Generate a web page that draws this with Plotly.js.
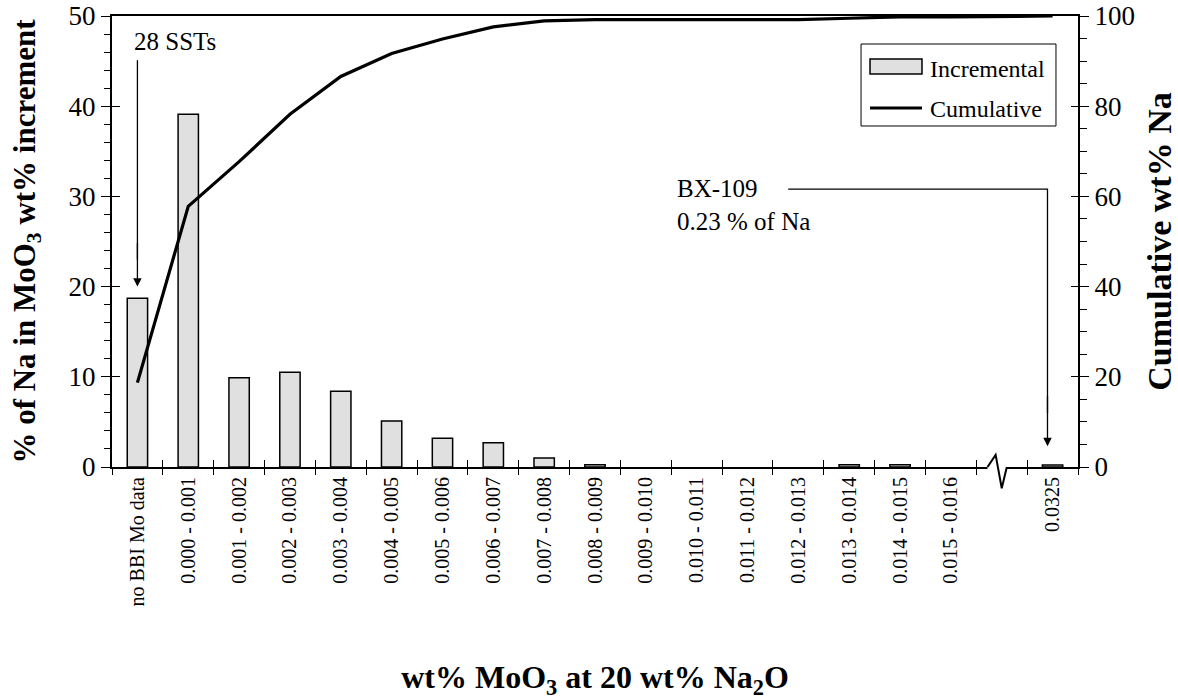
<!DOCTYPE html>
<html><head><meta charset="utf-8">
<script src="https://cdn.plot.ly/plotly-3.0.1.min.js"></script>
<style>body{margin:0;background:#fff}#chart{width:1178px;height:700px}</style>
</head><body><div id="chart"></div>
<script>
// ---- data ----
const categories = ["no BBI Mo data","0.000 - 0.001","0.001 - 0.002","0.002 - 0.003","0.003 - 0.004",
  "0.004 - 0.005","0.005 - 0.006","0.006 - 0.007","0.007 - 0.008","0.008 - 0.009","0.009 - 0.010",
  "0.010 - 0.011","0.011 - 0.012","0.012 - 0.013","0.013 - 0.014","0.014 - 0.015","0.015 - 0.016",
  " ","0.0325"];
const incremental = [18.7,39.1,9.9,10.5,8.4,5.1,3.2,2.7,1.0,0.25,0,0,0,0,0.25,0.25,0,null,0.23];
const cumulative  = [18.7,57.8,67.7,78.2,86.6,91.7,94.9,97.6,98.9,99.2,99.2,99.2,99.2,99.2,99.5,99.8,99.8,null,100];
const leftTickVals  = [0,10,20,30,40,50];
const rightTickVals = [0,20,40,60,80,100];
const legendNames = ["Incremental","Cumulative"];

const FONT = 'Liberation Serif, "Times New Roman", serif';

const traces = [
  {type:'bar', name:legendNames[0], x:categories, y:incremental, showlegend:false,
   marker:{color:'#e0e0e0', line:{color:'#000', width:incremental.map(v => v ? 1.5 : 0)}},
   width:0.4, xaxis:'x', yaxis:'y'},
  {type:'scatter', mode:'lines', name:legendNames[1], x:categories, y:cumulative, connectgaps:true,
   showlegend:false, line:{color:'#000', width:3.2}, xaxis:'x', yaxis:'y2'},
  // empty helper traces so the tick-only overlay axes are drawn
  {type:'scatter', x:[], y:[], xaxis:'x2', yaxis:'y', showlegend:false, hoverinfo:'skip'},
  {type:'scatter', x:[], y:[], xaxis:'x', yaxis:'y3', showlegend:false, hoverinfo:'skip'},
  {type:'scatter', x:[], y:[], xaxis:'x', yaxis:'y4', showlegend:false, hoverinfo:'skip'}
];

const tickOnly = {showline:false, showgrid:false, zeroline:false, showticklabels:false,
  tickcolor:'#000', tickwidth:1, ticks:'inside', automargin:false, fixedrange:true};

const layout = {
  width:1178, height:700,
  margin:{l:112, r:100, t:16, b:233, pad:0},
  paper_bgcolor:'#fff', plot_bgcolor:'#fff',
  font:{family:FONT, size:26, color:'#000'},
  showlegend:false,
  xaxis:{type:'category', categoryorder:'array', categoryarray:categories, range:[-0.5,18.5],
    tickson:'boundaries', ticks:'outside', ticklen:6, tickwidth:1, tickcolor:'#000',
    tickangle:-90, tickfont:{family:FONT, size:20, color:'#000'},
    showline:true, linewidth:2, linecolor:'#000', mirror:true, showgrid:false, zeroline:false,
    automargin:false,
    title:{text:'wt% MoO<sub>3</sub> at 20 wt% Na<sub>2</sub>O', font:{family:FONT, size:32, weight:'bold', color:'#000'}, standoff:64}},
  xaxis2:Object.assign({}, tickOnly, {overlaying:'x', anchor:'y', side:'bottom', range:[-0.5,18.5],
    tick0:0.5, dtick:1, ticklen:7}),
  yaxis:{range:[0,50], tickvals:leftTickVals, ticks:'outside', ticklen:9, tickwidth:1, tickcolor:'#000',
    minor:{dtick:2, ticks:'outside', ticklen:6, tickcolor:'#000', tickwidth:1, showgrid:false},
    tickfont:{family:FONT, size:27, color:'#000'},
    showline:true, linewidth:2, linecolor:'#000', showgrid:false, zeroline:false, automargin:false,
    title:{text:'% of Na in MoO<sub>3</sub> wt% increment', font:{family:FONT, size:31, weight:'bold', color:'#000'}, standoff:24}},
  yaxis2:{overlaying:'y', side:'right', anchor:'x', range:[0,100], tickvals:rightTickVals,
    ticks:'outside', ticklen:9, tickwidth:1, tickcolor:'#000',
    minor:{dtick:5, ticks:'outside', ticklen:7, tickcolor:'#000', tickwidth:1, showgrid:false},
    tickfont:{family:FONT, size:27, color:'#000'},
    showline:true, linewidth:2, linecolor:'#000', showgrid:false, zeroline:false, automargin:false,
    title:{text:'Cumulative wt% Na', font:{family:FONT, size:34, weight:'bold', color:'#000'}, standoff:16}},
  yaxis3:Object.assign({}, tickOnly, {overlaying:'y', anchor:'x', side:'left', range:[0,50],
    tickvals:leftTickVals, ticklen:8}),
  yaxis4:Object.assign({}, tickOnly, {overlaying:'y', anchor:'x', side:'right', range:[0,100],
    tickvals:rightTickVals, ticklen:7}),
  shapes:[
    // axis break on the x axis
    {type:'rect', xref:'x', yref:'paper', x0:16.72, x1:17.1, y0:-0.01, y1:0.01,
     fillcolor:'#fff', line:{width:0}, layer:'above'},
    {type:'path', xref:'x', yref:'paper', path:'M16.72,0 L16.88,0.027 L17.0,-0.047 L17.1,0',
     line:{color:'#000', width:2}, layer:'above'},
    // leader lines of the annotations
    {type:'path', xref:'x', yref:'y', path:'M0,45.1 L0,23', line:{color:'#000', width:1.3}, layer:'above'},
    {type:'path', xref:'x', yref:'y', path:'M12.8,30.8 L17.9,30.8 L17.9,6', line:{color:'#000', width:1.3}, layer:'above'},
    // legend box and swatches
    {type:'rect', xref:'paper', yref:'paper', x0:0.7754, x1:0.9772, y0:0.7561, y1:0.9379,
     fillcolor:'#fff', line:{color:'#000', width:1}, layer:'above'},
    {type:'rect', xref:'paper', yref:'paper', x0:0.7847, x1:0.8385, y0:0.8714, y1:0.9047,
     fillcolor:'#e0e0e0', line:{color:'#000', width:1.5}, layer:'above'},
    {type:'line', xref:'paper', yref:'paper', x0:0.7847, x1:0.8385, y0:0.796, y1:0.796,
     line:{color:'#000', width:3.2}, layer:'above'}
  ],
  annotations:[
    {text:'28 SSTs', xref:'x', yref:'y', x:0, y:47.2, xanchor:'left', yanchor:'middle', xshift:-5,
     showarrow:false, font:{family:FONT, size:25, color:'#000'}},
    {text:'', xref:'x', yref:'y', x:0, y:20, axref:'x', ayref:'y', ax:0, ay:25,
     showarrow:true, arrowhead:2, arrowsize:1.3, arrowwidth:1.3, arrowcolor:'#000', standoff:0, startstandoff:0},
    {text:'BX-109<br>0.23 % of Na', xref:'x', yref:'y', x:10.64, y:29, xanchor:'left', yanchor:'middle',
     align:'left', xshift:-3, showarrow:false, font:{family:FONT, size:25, color:'#000'}},
    {text:'', xref:'x', yref:'y', x:17.9, y:2.3, axref:'x', ayref:'y', ax:17.9, ay:8,
     showarrow:true, arrowhead:2, arrowsize:1.3, arrowwidth:1.3, arrowcolor:'#000', standoff:0, startstandoff:0},
    {text:legendNames[0], xref:'paper', yref:'paper', x:0.8447, y:0.8833, xanchor:'left', yanchor:'middle',
     showarrow:false, font:{family:FONT, size:24, color:'#000'}},
    {text:legendNames[1], xref:'paper', yref:'paper', x:0.8447, y:0.7937, xanchor:'left', yanchor:'middle',
     showarrow:false, font:{family:FONT, size:24, color:'#000'}}
  ]
};

Plotly.newPlot('chart', traces, layout, {displayModeBar:false, staticPlot:true});
</script>
</body></html>
